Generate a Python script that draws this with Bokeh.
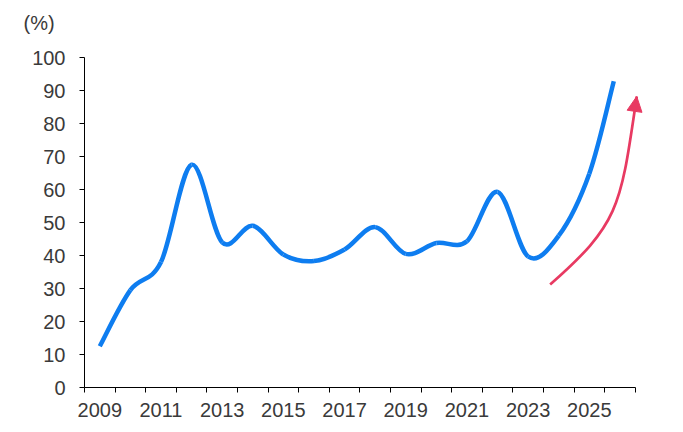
from bokeh.plotting import figure
from bokeh.models import Range1d, FixedTicker, Arrow, NormalHead, ColumnDataSource
from bokeh.embed import file_html
from bokeh.resources import INLINE

# ---- data ----
years = [2009, 2010, 2011, 2012, 2013, 2014, 2015, 2016, 2017, 2018,
         2019, 2020, 2021, 2022, 2023, 2024, 2025, 2025.8]
share = [12.5, 29.5, 38.0, 67.5, 44.0, 49.0, 40.3, 38.3, 41.8, 48.6,
         40.5, 43.8, 44.3, 59.3, 39.7, 46.0, 64.8, 92.8]
label_years = [2009, 2011, 2013, 2015, 2017, 2019, 2021, 2023, 2025]
y_ticks = [0, 10, 20, 30, 40, 50, 60, 70, 80, 90, 100]
# red trend arrow: start, two control points, tip (data coordinates)
arrow_x = [2023.72, 2026.01, 2026.02, 2026.55]
arrow_y = [31.2, 49.9, 54.8, 88.2]

BLUE = "#0E7DF0"
RED = "#E83A62"
FONT = "Liberation Sans"
TXT = "#3a3a3a"

p = figure(width=675, height=424, output_backend="svg", toolbar_location=None,
           x_range=Range1d(2008.5, 2027.0), y_range=Range1d(0, 100),
           min_border_left=84, min_border_right=25, min_border_top=57,
           min_border_bottom=37, title="(%)\n")
p.outline_line_color = None
p.xgrid.visible = False
p.ygrid.visible = False
p.background_fill_color = "white"
p.border_fill_color = "white"

p.title.align = "left"
p.title.vertical_align = "top"
p.title.offset = -61
p.title.standoff = 0
p.title.text_font = FONT
p.title.text_font_size = "20px"
p.title.text_font_style = "normal"
p.title.text_color = TXT

# smooth (Excel-like) curve through the data points, drawn as Bezier segments
n = len(years)
x0, y0, x1, y1, cx0, cy0, cx1, cy1 = ([] for _ in range(8))
for i in range(n - 1):
    ip, inx = max(i - 1, 0), min(i + 2, n - 1)
    x0.append(years[i]); y0.append(share[i])
    x1.append(years[i + 1]); y1.append(share[i + 1])
    cx0.append(years[i] + (years[i + 1] - years[ip]) / 6.0)
    cy0.append(share[i] + (share[i + 1] - share[ip]) / 6.0)
    cx1.append(years[i + 1] - (years[inx] - years[i]) / 6.0)
    cy1.append(share[i + 1] - (share[inx] - share[i]) / 6.0)
src = ColumnDataSource(dict(x0=x0, y0=y0, x1=x1, y1=y1, cx0=cx0, cy0=cy0, cx1=cx1, cy1=cy1))
p.bezier(x0="x0", y0="y0", x1="x1", y1="y1", cx0="cx0", cy0="cy0", cx1="cx1", cy1="cy1",
         source=src, line_color=BLUE, line_width=4.5, line_cap="butt")

# red arrow
p.bezier(x0=[arrow_x[0]], y0=[arrow_y[0]], cx0=[arrow_x[1]], cy0=[arrow_y[1]],
         cx1=[arrow_x[2]], cy1=[arrow_y[2]], x1=[arrow_x[3]], y1=[arrow_y[3]],
         line_color=RED, line_width=2.7)
p.add_layout(Arrow(end=NormalHead(size=15, fill_color=RED, line_color=RED, line_width=1),
                   x_start=arrow_x[2], y_start=arrow_y[2],
                   x_end=arrow_x[3], y_end=arrow_y[3],
                   line_alpha=0))

# x axis: ticks at category boundaries, labels at category centres
xa = p.xaxis[0]
xa.bounds = (2008.5, 2026.5)
xa.ticker = FixedTicker(ticks=label_years,
                        minor_ticks=[y - 0.5 for y in years[:-1]] + [2025.5, 2026.5])
xa.major_label_overrides = {y: str(y) for y in label_years}
xa.major_tick_line_color = None
xa.minor_tick_line_color = "black"
xa.minor_tick_out = 5
xa.minor_tick_in = 0
xa.axis_line_color = "black"
xa.major_label_text_font = FONT
xa.major_label_text_font_size = "20px"
xa.major_label_text_color = TXT
xa.major_label_standoff = 9

ya = p.yaxis[0]
ya.ticker = FixedTicker(ticks=y_ticks)
ya.major_tick_out = 5
ya.major_tick_in = 0
ya.minor_tick_line_color = None
ya.major_tick_line_color = "black"
ya.axis_line_color = "black"
ya.major_label_text_font = FONT
ya.major_label_text_font_size = "20px"
ya.major_label_text_color = TXT
ya.major_label_standoff = 14

open("out.html", "w").write(file_html(p, INLINE))
